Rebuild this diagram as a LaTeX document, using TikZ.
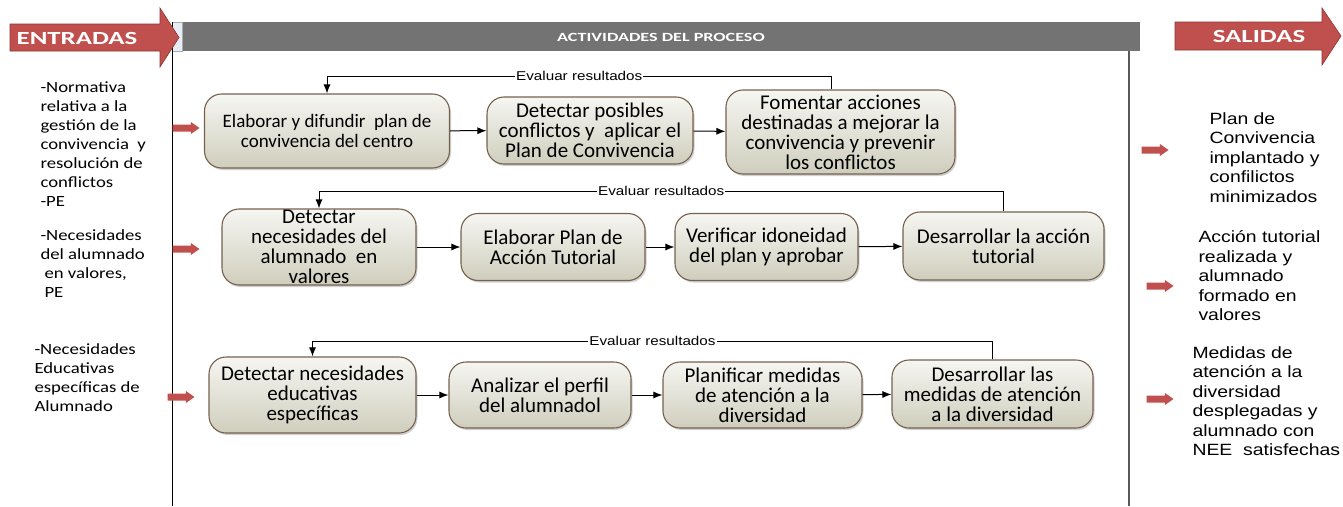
\documentclass[tikz,border=0pt]{standalone}
\usepackage{fontspec}
\setmainfont{Carlito}
\newfontfamily\leftfont[FakeStretch=1.2]{Carlito}
\newfontfamily\widefont[FakeStretch=1.45]{Carlito}
\newfontfamily\arialfont[FakeStretch=1.19]{Liberation Sans}
\usetikzlibrary{shapes.arrows,shadows,arrows.meta}

\definecolor{redfill}{HTML}{C0504D}
\definecolor{rededge}{HTML}{8E3431}
\definecolor{boxedge}{HTML}{76614F}
\definecolor{boxtop}{HTML}{F6F6F2}
\definecolor{boxbottom}{HTML}{CFCEBD}
\definecolor{headgray}{HTML}{737373}
\definecolor{headblue}{HTML}{E6EDF7}

\begin{document}
\begin{tikzpicture}[x=1pt,y=-1pt,-,>={Latex[length=9pt,width=7pt]},line width=1pt,
    main node/.style={rounded corners=17pt,draw=boxedge,line width=1.1pt,top color=boxtop,bottom color=boxbottom,
        drop shadow={shadow xshift=1.5pt,shadow yshift=-2pt,opacity=0.3,fill=black!60},
        align=center,inner sep=1pt,font=\fontsize{21}{20}\selectfont},
    in text/.style={anchor=north west,align=left,inner sep=0pt,font=\leftfont\fontsize{15.6}{19}\selectfont},
    out text/.style={anchor=north west,align=left,inner sep=0pt,font=\arialfont\fontsize{16.3}{19.5}\selectfont},
    eval label/.style={fill=white,inner sep=1pt,font=\arialfont\fontsize{12.8}{14}\selectfont},
    small arrow/.style={single arrow,fill=redfill,draw=none,anchor=tail,inner sep=3pt,
        minimum height=27pt,single arrow head extend=2.5pt,single arrow tip angle=70},
    big label/.style={text=white,font=\widefont\bfseries\fontsize{18.5}{20}\selectfont,inner sep=0pt}]
    \useasboundingbox (0,0) rectangle (1343,506);

    % cabecera y marco
    \fill[headgray] (182,22) rectangle (1140,51);
    \draw[headgray!60,line width=0.6pt,fill=headblue] (172,22) rectangle (182,51);
    \node[text=white,font=\widefont\bfseries\fontsize{12.5}{14}\selectfont] (hdr) at (661,37) {ACTIVIDADES DEL PROCESO};
    \draw (172,22) -- (172,506);
    \draw[black!65,line width=1.5pt] (1129,51) -- (1129,506);

    % flechas grandes
    \draw[rededge,line width=0.6pt,fill=redfill] (10,24) -- (160,24) -- (160,8) -- (179,37.5) -- (160,67) -- (160,51) -- (10,51) -- cycle;
    \node[big label] (entradas) at (77,38) {ENTRADAS};
    \draw[rededge,line width=0.6pt,fill=redfill] (1175,22) -- (1322,22) -- (1322,8) -- (1341,36) -- (1322,65) -- (1322,50) -- (1175,50) -- cycle;
    \node[big label] (salidas) at (1259,36) {SALIDAS};

    % entradas
    \node[in text] (e1) at (40,81) {-Normativa\\relativa a la\\gestión de la\\convivencia~ y\\resolución de\\conflictos\\-PE};
    \node[in text] (e2) at (40,229) {-Necesidades\\del alumnado\\\hspace*{4pt}en valores,\\\hspace*{4pt}PE};
    \node[in text] (e3) at (34,343) {-Necesidades\\Educativas\\específicas de\\Alumnado};
    \node[small arrow] (a1) at (172,128) {};
    \node[small arrow] (a2) at (172,249) {};
    \node[small arrow] (a3) at (167,397) {};

    % salidas
    \node[out text] (s1) at (1209,112) {Plan de\\Convivencia\\implantado y\\confilictos\\minimizados};
    \node[out text] (s2) at (1198,230) {Acción tutorial\\realizada y\\alumnado\\formado en\\valores};
    \node[out text] (s3) at (1192,346) {Medidas de\\atención a la\\diversidad\\desplegadas y\\alumnado con\\NEE~ satisfechas};
    \node[small arrow] (b1) at (1141,150) {};
    \node[small arrow] (b2) at (1146,286) {};
    \node[small arrow] (b3) at (1146,399) {};

    % actividades
    \node[main node,minimum width=245pt,minimum height=74pt,font=\fontsize{19}{20}\selectfont] (1) at (327,131) {Elaborar y difundir~ plan de\\convivencia del centro};
    \node[main node,minimum width=206pt,minimum height=67pt] (2) at (590,130.5) {Detectar posibles\\conflictos y~ aplicar el\\Plan de Convivencia};
    \node[main node,minimum width=229pt,minimum height=84pt,inner ysep=-1pt] (3) at (840.5,132) {Fomentar acciones\\destinadas a mejorar la\\convivencia y prevenir\\los conflictos};

    \node[main node,minimum width=194pt,minimum height=76pt,inner ysep=-4pt] (4) at (319,247) {Detectar\\necesidades del\\alumnado~ en\\valores};
    \node[main node,minimum width=184pt,minimum height=67pt] (5) at (553,247) {Elaborar Plan de\\Acción Tutorial};
    \node[main node,minimum width=183pt,minimum height=67pt] (6) at (766.5,247) {Verificar idoneidad\\del plan y aprobar};
    \node[main node,minimum width=201pt,minimum height=68pt] (7) at (1003.5,246) {Desarrollar la acción\\tutorial};

    \node[main node,minimum width=207pt,minimum height=76pt] (8) at (312.5,395) {Detectar necesidades\\educativas\\específicas};
    \node[main node,minimum width=182pt,minimum height=66pt] (9) at (540,395) {Analizar el perfil\\del alumnadol};
    \node[main node,minimum width=199pt,minimum height=66pt,inner ysep=-1pt] (10) at (762.5,395) {Planificar medidas\\de atención a la\\diversidad};
    \node[main node,minimum width=201pt,minimum height=68pt,inner ysep=-1pt] (11) at (992.5,394) {Desarrollar las\\medidas de atención\\a la diversidad};

    \path[->]
        (1) edge (2)
        (2) edge (3)
        (4) edge (5)
        (5) edge (6)
        (6) edge (7)
        (8) edge (9)
        (9) edge (10)
        (10) edge (11)
        ;

    % evaluar resultados
    \coordinate (r1) at ([xshift=-9pt]3.north);
    \draw[->] (r1) -- (r1 |- 0,76) -- node[eval label] {Evaluar resultados} (1.north |- 0,76) -- (1.north);
    \draw[->] (7.north) -- (7.north |- 0,191) -- node[eval label] {Evaluar resultados} (4.north |- 0,191) -- (4.north);
    \draw[->] (11.north) -- (11.north |- 0,341) -- node[eval label] {Evaluar resultados} (8.north |- 0,341) -- (8.north);
\end{tikzpicture}
\end{document}
